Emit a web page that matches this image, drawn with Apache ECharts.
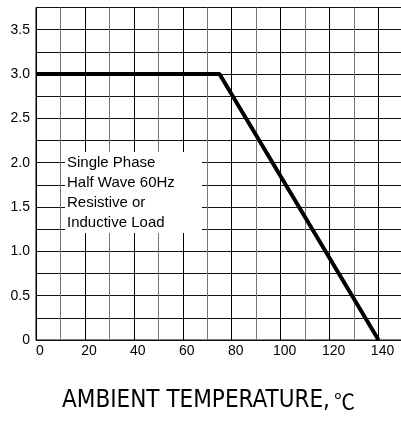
<!DOCTYPE html>
<html>
<head>
<meta charset="utf-8">
<script src="https://cdn.jsdelivr.net/npm/echarts@6/dist/echarts.min.js"></script>
<style>
  html, body { margin: 0; padding: 0; background: #fff; }
  #deratingChart { width: 401px; height: 421px; }
</style>
</head>
<body>
<div id="deratingChart"></div>
<script>
// derating curve
var ambientTemp = [0, 75, 140];
var avgCurrent = [3.0, 3.0, 0];
var noteLines = ['Single Phase', 'Half Wave 60Hz', 'Resistive or', 'Inductive Load'];
var xTitle = 'AMBIENT TEMPERATURE,';

var chart = echarts.init(document.getElementById('deratingChart'));

const options = {
  animation: false,
  grid: {
    left: 36,
    top: 7.5,
    width: 367,
    height: 332.5,
    outerBoundsMode: 'none',
    containLabel: false,
    show: true,
    borderColor: '#000',
    borderWidth: 1
  },
  xAxis: {
    type: 'value',
    min: 0,
    max: 150,
    interval: 10,
    axisLine: { show: false },
    axisTick: { show: false },
    axisLabel: {
      fontFamily: 'Liberation Sans',
      fontSize: 14,
      color: '#000',
      margin: 4,
      padding: [0, 0, 0, 8],
      formatter: function (v) { return v % 20 === 0 ? String(v) : ''; }
    },
    splitLine: { lineStyle: { color: ['#000', '#777'], width: 1 } }
  },
  yAxis: {
    type: 'value',
    min: 0,
    max: 3.75,
    interval: 0.25,
    axisLine: { show: false },
    axisTick: { show: false },
    axisLabel: {
      fontFamily: 'Liberation Sans',
      fontSize: 14,
      color: '#000',
      margin: 6,
      formatter: function (v) {
        if (Math.abs(v * 2 - Math.round(v * 2)) > 1e-6) return '';
        return v === 0 ? '0' : v.toFixed(1);
      }
    },
    splitLine: { lineStyle: { color: '#111', width: 1 } }
  },
  graphic: [
    {
      type: 'rect',
      shape: { x: 65, y: 152, width: 137, height: 81 },
      style: { fill: '#fff' },
      z: 10
    },
    {
      type: 'text',
      left: 67,
      top: 153,
      z: 11,
      style: {
        text: noteLines.join('\n'),
        font: '15px "Liberation Sans", Arial, sans-serif',
        lineHeight: 20,
        fill: '#000'
      }
    },
    {
      type: 'text',
      left: 62,
      top: 389,
      style: {
        text: '{a|' + xTitle + '}{b|℃}',
        rich: {
          a: { fontFamily: '"Liberation Sans Narrow", "DejaVu Sans Condensed", sans-serif', fontSize: 24, fill: '#000', letterSpacing: -0.8 },
          b: { fontFamily: '"Noto Sans CJK SC", sans-serif', fontSize: 21, fill: '#000', padding: [0, 0, 0, 4] }
        }
      }
    }
  ],
  series: [{
    type: 'line',
    data: ambientTemp.map(function (t, i) { return [t, avgCurrent[i]]; }),
    symbol: 'none',
    lineStyle: { color: '#000', width: 4 },
    z: 20
  }]
};

chart.setOption(options);
</script>
</body>
</html>
